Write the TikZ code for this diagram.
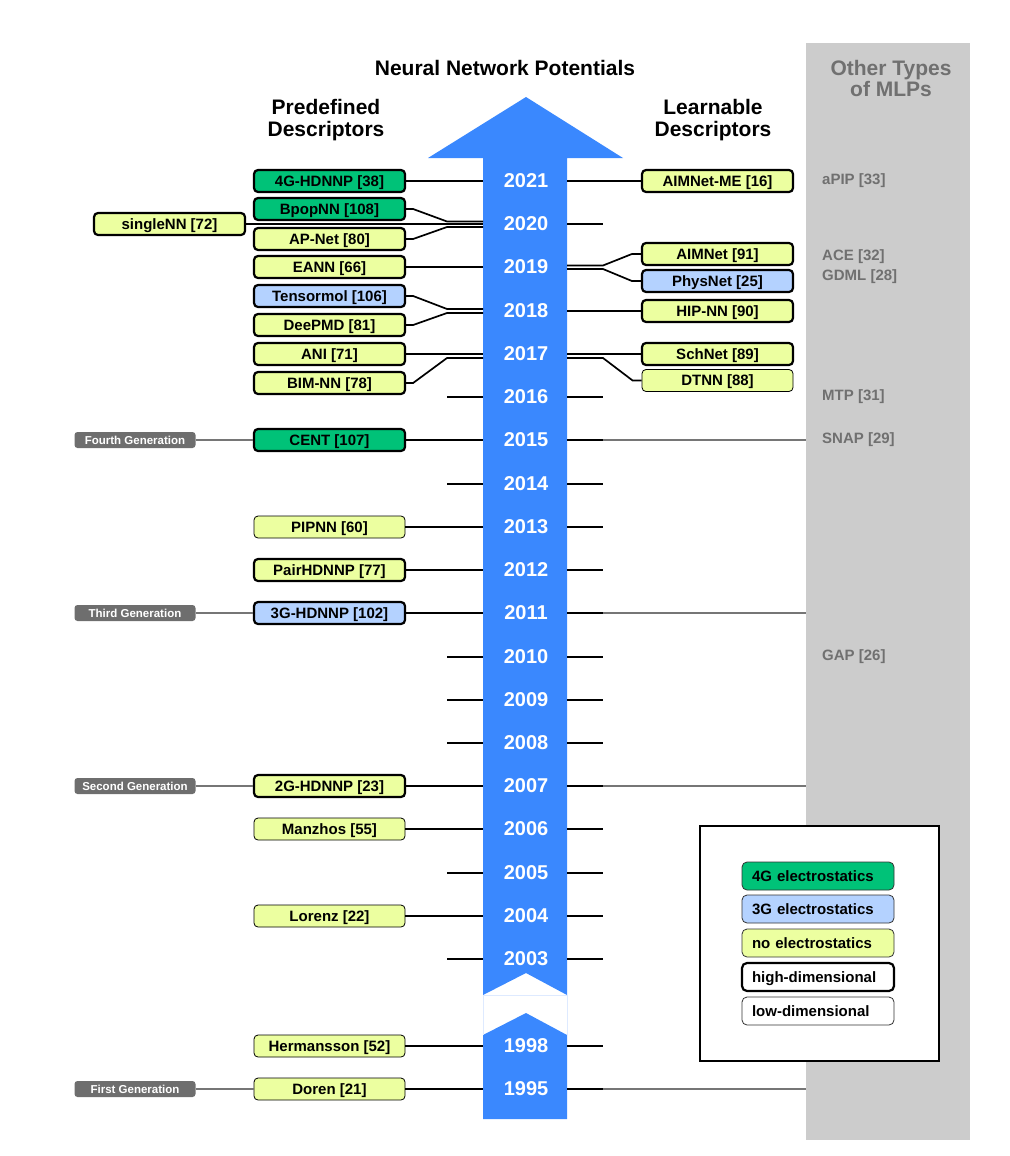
\documentclass[tikz,border=0pt]{standalone}
\usepackage{fontspec}
\setmainfont{Liberation Sans}
\usetikzlibrary{calc}
\definecolor{arrowblue}{RGB}{58,136,254}
\definecolor{gfour}{RGB}{0,194,120}
\definecolor{bthree}{RGB}{180,210,255}
\definecolor{ynone}{RGB}{236,255,160}
\definecolor{panelgray}{RGB}{204,204,204}
\definecolor{txtgray}{RGB}{112,112,112}
\definecolor{gengray}{RGB}{110,110,110}
\definecolor{linegray}{RGB}{118,118,118}
\definecolor{gapblue}{RGB}{222,234,255}
\begin{document}
\begin{tikzpicture}[x=1pt,y=-1pt,
  nnbox/.style={draw=black, rounded corners=4pt, minimum width=151pt, minimum height=22pt, inner sep=0pt, text height=11pt, text depth=1pt, font=\bfseries\fontsize{15}{17}\selectfont},
  hi/.style={line width=2.2pt},
  lo/.style={line width=0.8pt},
  yr/.style={text=white, inner sep=0pt, font=\bfseries\fontsize{20}{22}\selectfont},
  conn/.style={line width=1.7pt},
  gen/.style={fill=gengray, rounded corners=3pt, text=white, font=\bfseries\fontsize{11.5}{13}\selectfont, minimum width=121pt, minimum height=16pt, inner sep=0pt, text height=8.5pt, text depth=0.5pt},
  genline/.style={draw=linegray, line width=1.6pt},
  other/.style={text=txtgray, anchor=west, inner sep=0pt, font=\bfseries\fontsize{15}{17}\selectfont},
  head/.style={align=center, inner sep=0pt, font=\bfseries\fontsize{21}{22}\selectfont},
  legbox/.style={rounded corners=5pt, minimum width=152pt, minimum height=28pt, inner xsep=10pt, inner ysep=0pt, text width=132pt, align=left, text height=11pt, text depth=1pt, font=\bfseries\fontsize{15}{17}\selectfont},
]
\useasboundingbox (0,0) rectangle (1009,1156);

% right panel
\fill[panelgray] (806,43) rectangle (970,1140);

% year coordinates
\foreach \yr/\yy in {2021/181,2020/224,2019/267,2018/311,2017/354,2016/397,2015/440,2014/484,2013/527,2012/570,2011/613,2010/657,2009/700,2008/743,2007/786,2006/829,2005/873,2004/916,2003/959,1998/1046,1995/1089}{
  \coordinate (L\yr) at (483,\yy);
  \coordinate (R\yr) at (567,\yy);
  \coordinate (TL\yr) at (447,\yy);
  \coordinate (TR\yr) at (603,\yy);
  \coordinate (P\yr) at (806,\yy);
}

% arrow
\fill[arrowblue] (483,995) -- (483,158) -- (428,158) -- (526,97) -- (623,158) -- (567,158) -- (567,995) -- (526,973) -- cycle;
\fill[arrowblue] (483,1119) -- (483,1035) -- (526,1013) -- (567,1035) -- (567,1119) -- cycle;
\draw[gapblue, line width=0.6pt] (483,1035) -- (483,995) -- (567,995) -- (567,1035);

% years
\foreach \yr/\yy in {2021/181,2020/224,2019/267,2018/311,2017/354,2016/397,2015/440,2014/484,2013/527,2012/570,2011/613,2010/657,2009/700,2008/743,2007/786,2006/829,2005/873,2004/916,2003/959,1998/1046,1995/1089}{
  \node[yr] (y\yr) at (526,\yy) {\yr};
}

% headings
\node[head] (title) at (505,68) {Neural Network Potentials};
\node[head] (predef) at (326,120) {Predefined\\Descriptors};
\node[head] (learn) at (713,120) {Learnable\\Descriptors};
\node[head, text=txtgray, font=\bfseries\fontsize{21}{21}\selectfont] (othertypes) at (891,78) {Other Types\\of MLPs};

% left boxes
\node[nnbox,hi,fill=gfour] (hdfour) at (329.5,181) {4G-HDNNP [38]};
\node[nnbox,hi,fill=gfour] (bpop) at (329.5,209) {BpopNN [108]};
\node[nnbox,hi,fill=ynone] (single) at (169.5,224) {singleNN [72]};
\node[nnbox,hi,fill=ynone] (apnet) at (329.5,239) {AP-Net [80]};
\node[nnbox,hi,fill=ynone] (eann) at (329.5,267) {EANN [66]};
\node[nnbox,hi,fill=bthree] (tens) at (329.5,296) {Tensormol [106]};
\node[nnbox,hi,fill=ynone] (deep) at (329.5,325) {DeePMD [81]};
\node[nnbox,hi,fill=ynone] (ani) at (329.5,354) {ANI [71]};
\node[nnbox,hi,fill=ynone] (bim) at (329.5,383) {BIM-NN [78]};
\node[nnbox,hi,fill=gfour] (cent) at (329.5,440) {CENT [107]};
\node[nnbox,lo,fill=ynone] (pipnn) at (329.5,527) {PIPNN [60]};
\node[nnbox,hi,fill=ynone] (pair) at (329.5,570) {PairHDNNP [77]};
\node[nnbox,hi,fill=bthree] (hdthree) at (329.5,613) {3G-HDNNP [102]};
\node[nnbox,hi,fill=ynone] (hdtwo) at (329.5,786) {2G-HDNNP [23]};
\node[nnbox,lo,fill=ynone] (manz) at (329.5,829) {Manzhos [55]};
\node[nnbox,lo,fill=ynone] (lor) at (329.5,916) {Lorenz [22]};
\node[nnbox,lo,fill=ynone] (herm) at (329.5,1046) {Hermansson [52]};
\node[nnbox,lo,fill=ynone] (doren) at (329.5,1089) {Doren [21]};

% right boxes
\node[nnbox,hi,fill=ynone] (aimme) at (717.5,181) {AIMNet-ME [16]};
\node[nnbox,hi,fill=ynone] (aimnet) at (717.5,254) {AIMNet [91]};
\node[nnbox,hi,fill=bthree] (phys) at (717.5,281) {PhysNet [25]};
\node[nnbox,hi,fill=ynone] (hip) at (717.5,311) {HIP-NN [90]};
\node[nnbox,hi,fill=ynone] (sch) at (717.5,354) {SchNet [89]};
\node[nnbox,lo,fill=ynone] (dtnn) at (717.5,380.5) {DTNN [88]};

% generation labels
\node[gen] (genfour) at (135,440) {Fourth Generation};
\node[gen] (genthree) at (135,613) {Third Generation};
\node[gen] (gentwo) at (135,786) {Second Generation};
\node[gen] (genone) at (135,1089) {First Generation};

% gray generation lines
\draw[genline] (genfour.east) -- (cent.west);
\draw[genline] (genthree.east) -- (hdthree.west);
\draw[genline] (gentwo.east) -- (hdtwo.west);
\draw[genline] (genone.east) -- (doren.west);
\draw[genline] (TR2015) -- (P2015);
\draw[genline] (TR2011) -- (P2011);
\draw[genline] (TR2007) -- (P2007);
\draw[genline] (TR1995) -- (P1995);

% left connectors
\draw[conn] (hdfour.east) -- (L2021);
\draw[conn] (bpop.east) -- ++(7,0) -- ($(TL2020)+(0,-2.5)$) -- ($(L2020)+(0,-2.5)$);
\draw[conn] (single.east) -- (L2020);
\draw[conn] (apnet.east) -- ++(7,0) -- ($(TL2020)+(0,3)$) -- ($(L2020)+(0,3)$);
\draw[conn] (eann.east) -- (L2019);
\draw[conn] (tens.east) -- ++(7,0) -- ($(TL2018)+(0,-2)$) -- ($(L2018)+(0,-2)$);
\draw[conn] (deep.east) -- ++(7,0) -- ($(TL2018)+(0,2)$) -- ($(L2018)+(0,2)$);
\draw[conn] (ani.east) -- (L2017);
\draw[conn] (bim.east) -- ++(7,0) -- ($(TL2017)+(0,4)$) -- ($(L2017)+(0,4)$);
\draw[conn] (cent.east) -- (L2015);
\draw[conn] (pipnn.east) -- (L2013);
\draw[conn] (pair.east) -- (L2012);
\draw[conn] (hdthree.east) -- (L2011);
\draw[conn] (hdtwo.east) -- (L2007);
\draw[conn] (manz.east) -- (L2006);
\draw[conn] (lor.east) -- (L2004);
\draw[conn] (herm.east) -- (L1998);
\draw[conn] (doren.east) -- (L1995);
\foreach \yr in {2016,2014,2010,2009,2008,2005,2003}{
  \draw[conn] (TL\yr) -- (L\yr);
}

% right connectors
\draw[conn] (R2021) -- (aimme.west);
\draw[conn] ($(R2019)+(0,-1.5)$) -- ($(TR2019)+(0,-1.5)$) -- ($(aimnet.west)+(-9,0)$) -- (aimnet.west);
\draw[conn] ($(R2019)+(0,2)$) -- ($(TR2019)+(0,2)$) -- ($(phys.west)+(-9,0)$) -- (phys.west);
\draw[conn] (R2018) -- (hip.west);
\draw[conn] (R2017) -- (sch.west);
\draw[conn] ($(R2017)+(0,4)$) -- ($(TR2017)+(0,4)$) -- ($(dtnn.west)+(-9,0)$) -- (dtnn.west);
\foreach \yr in {2020,2016,2015,2014,2013,2012,2011,2010,2009,2008,2007,2006,2005,2004,2003,1998,1995}{
  \draw[conn] (R\yr) -- (TR\yr);
}

% other MLPs
\node[other] (apip) at (822,181) {aPIP [33]};
\node[other] (ace) at (822,257) {ACE [32]};
\node[other] (gdml) at (822,277) {GDML [28]};
\node[other] (mtp) at (822,397) {MTP [31]};
\node[other] (snap) at (822,440) {SNAP [29]};
\node[other] (gap) at (822,657) {GAP [26]};

% legend
\node[draw=black, fill=white, line width=2pt, minimum width=239pt, minimum height=235pt, inner sep=0pt] (legend) at (819.5,943.5) {};
\node[legbox, draw=black!80, line width=0.8pt, fill=gfour] (lgfour) at (818,876) {4G electrostatics};
\node[legbox, draw=black!80, line width=0.8pt, fill=bthree] (lgthree) at (818,909) {3G electrostatics};
\node[legbox, draw=black!80, line width=0.8pt, fill=ynone] (lgnone) at (818,943) {no electrostatics};
\node[legbox, draw=black, line width=2.2pt, fill=white] (lghi) at (818,977) {high-dimensional};
\node[legbox, draw=black!80, line width=0.8pt, fill=white] (lglo) at (818,1011) {low-dimensional};
\end{tikzpicture}
\end{document}
